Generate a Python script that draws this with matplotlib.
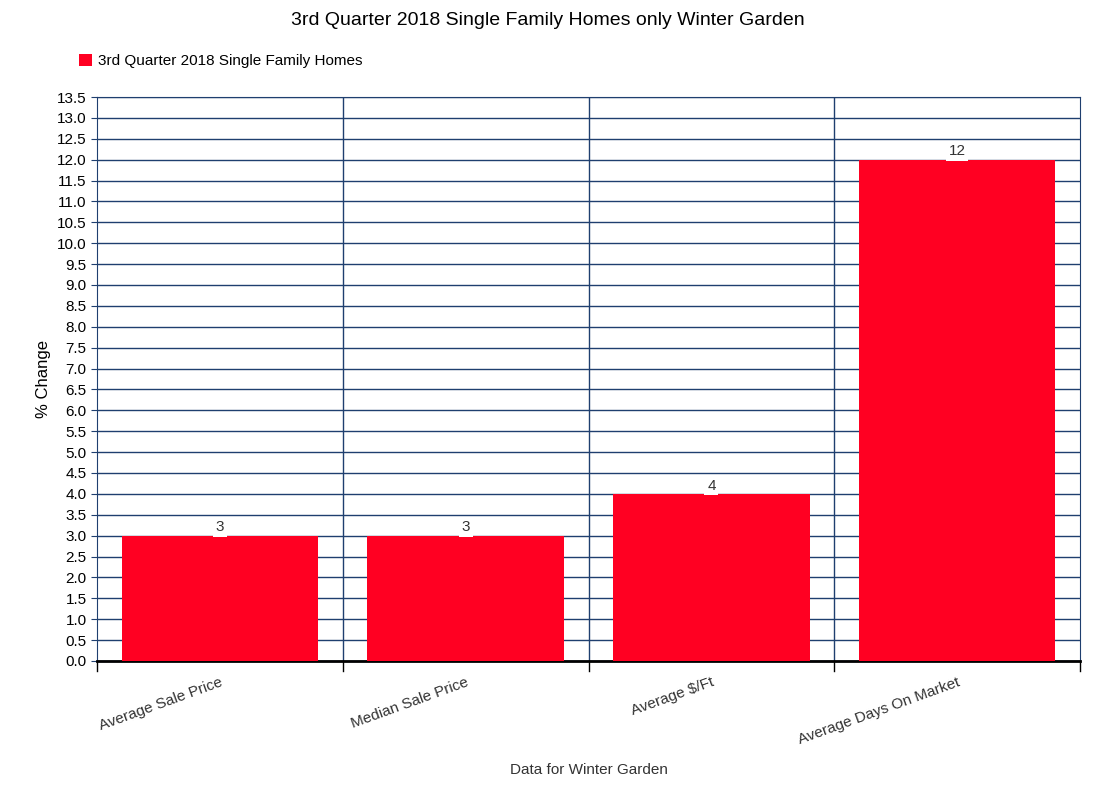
import matplotlib
matplotlib.use("Agg")
import matplotlib.pyplot as plt
import numpy as np

categories = ["Average Sale Price", "Median Sale Price", "Average $/Ft", "Average Days On Market"]
values = [3, 3, 4, 12]
series_name = "3rd Quarter 2018 Single Family Homes"

plt.rcParams["font.family"] = ["Liberation Sans", "DejaVu Sans"]

fig = plt.figure(figsize=(10.95, 8.05), dpi=100)
ax = fig.add_axes([0.0886, 0.1789, 0.8977, 0.7006])

x = np.arange(len(categories))
ax.bar(x, values, width=0.8, color="#ff0022", zorder=3, label=series_name)
for xi, v in zip(x, values):
    ax.text(xi, v + 0.2, f"{v}", ha="center", va="center", fontsize=11, color="#333333",
            bbox=dict(facecolor="white", edgecolor="none", pad=2), zorder=4)

ax.set_xlim(-0.5, len(categories) - 0.5)
ax.set_ylim(0, 13.5)
ax.set_yticks(np.arange(0, 13.51, 0.5))
ax.set_yticklabels([f"{t:.1f}" for t in np.arange(0, 13.51, 0.5)], fontsize=11)
ax.grid(axis="y", color="#1f3f6f", linewidth=1, zorder=0)
for b in np.arange(0.5, len(categories) - 0.5, 1):
    ax.axvline(b, color="#1f3f6f", linewidth=1, zorder=0)

ax.set_xticks(x)
ax.set_xticklabels(categories, rotation=20, ha="right", rotation_mode="anchor", fontsize=11, color="#333333")
ax.tick_params(axis="x", length=0, pad=10)
ax.tick_params(axis="y", length=4, color="#1f3f6f")
for b in np.arange(-0.5, len(categories), 1):
    ax.plot([b, b], [0, -0.25], color="black", linewidth=1, clip_on=False)

for s in ["top", "right", "left"]:
    ax.spines[s].set_color("#1f3f6f")
ax.spines["bottom"].set_color("black")
ax.spines["bottom"].set_linewidth(2)

ax.set_ylabel("% Change", fontsize=12)
ax.set_xlabel("Data for Winter Garden", fontsize=11, color="#333333", labelpad=12)
fig.suptitle("3rd Quarter 2018 Single Family Homes only Winter Garden", fontsize=14, y=0.985)
fig.legend(loc="upper left", bbox_to_anchor=(0.06, 0.95), frameon=False, fontsize=11,
           handlelength=0.8, handleheight=0.8, handletextpad=0.4)

fig.savefig("out.png", dpi=100)
